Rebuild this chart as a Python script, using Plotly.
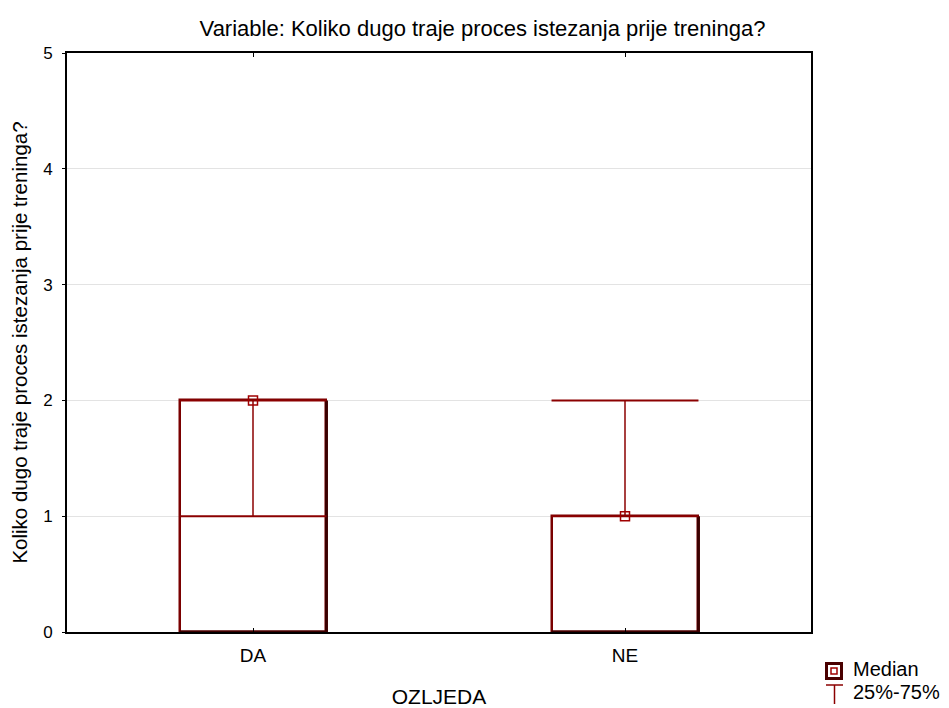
import plotly.graph_objects as go

categories = ["DA", "NE"]
medians = [2, 1]
q25 = [1, 1]
q75 = [2, 2]
y_ticks = [0, 1, 2, 3, 4, 5]

title_text = "Variable: Koliko dugo traje proces istezanja prije treninga?"
y_title = "Koliko dugo traje proces istezanja prije treninga?"
x_title = "OZLJEDA"
legend_labels = ["Median", "25%-75%"]

BOX_W = 0.395
RED = "#8b0000"
DARK = "#3c0000"
FONT = "Liberation Sans, Arial, sans-serif"

# the page body has an 8px default margin; lay the figure out in window pixels
OFF = 8
W, H = 949 - OFF, 708 - OFF
L, R, T, B = 67 - OFF, 949 - 811, 53 - OFF, 708 - 632
PW, PH = W - L - R, H - T - B


def px(x):
    return (x - OFF - L) / PW


def py(y):
    return (H - B - (y - OFF)) / PH


xs = list(range(len(categories)))
fig = go.Figure()

# boxes (bars from 0 to median)
fig.add_trace(go.Bar(x=xs, y=medians, base=0, width=BOX_W,
                     marker=dict(color="white", line=dict(color="#7a0000", width=2.5)),
                     showlegend=False, hoverinfo="skip"))

# darker right/bottom edges
for x, m in zip(xs, medians):
    fig.add_trace(go.Scatter(x=[x - BOX_W / 2, x + BOX_W / 2, x + BOX_W / 2],
                             y=[0, 0, m], mode="lines",
                             line=dict(color=DARK, width=3),
                             showlegend=False, hoverinfo="skip"))

# whiskers 25%-75%
for x, lo, hi in zip(xs, q25, q75):
    fig.add_trace(go.Scatter(x=[x, x], y=[lo, hi], mode="lines",
                             line=dict(color=RED, width=1.5),
                             showlegend=False, hoverinfo="skip"))
    for v in (lo, hi):
        fig.add_trace(go.Scatter(x=[x - BOX_W / 2, x + BOX_W / 2], y=[v, v], mode="lines",
                                 line=dict(color=RED, width=2),
                                 showlegend=False, hoverinfo="skip"))

# medians
fig.add_trace(go.Scatter(x=xs, y=medians, mode="markers",
                         marker=dict(symbol="square-open", size=9, color="#a00000",
                                     line=dict(color="#a00000", width=1.5)),
                         showlegend=False, hoverinfo="skip"))

fig.update_layout(
    width=W, height=H,
    margin=dict(l=L, r=R, t=T, b=B, autoexpand=False),
    paper_bgcolor="white", plot_bgcolor="white",
    font=dict(family=FONT, size=19, color="black"),
    title=dict(text=title_text, x=(482.5 - OFF) / W, xref="container", xanchor="center",
               y=1 - (28 - OFF) / H, yref="container", yanchor="middle",
               font=dict(family=FONT, size=22, color="black")),
    xaxis=dict(range=[-0.5, 1.5], tickvals=xs, ticktext=categories,
               showline=True, linecolor="black", linewidth=2, mirror="ticks",
               ticks="inside", ticklen=4, tickcolor="black", showgrid=False, zeroline=False,
               tickfont=dict(family=FONT, size=19),
               title=dict(text=x_title, standoff=26, font=dict(family=FONT, size=21)),
               ticklabelstandoff=5, automargin=False),
    yaxis=dict(range=[0, 5], tickvals=y_ticks,
               showline=True, linecolor="black", linewidth=2, mirror=True,
               ticks="outside", ticklen=3, tickcolor="black",
               showgrid=True, gridcolor="#e3e3e3", gridwidth=1, zeroline=False,
               tickfont=dict(family=FONT, size=17),
               title=dict(text=y_title, standoff=18, font=dict(family=FONT, size=20.5)),
               ticklabelstandoff=6, automargin=False),
    bargap=0,
)

# legend
fig.add_shape(type="rect", xref="paper", yref="paper",
              x0=px(826.5), x1=px(841.5), y0=py(678.5), y1=py(663.5),
              line=dict(color="#4a0000", width=3), fillcolor="white")
fig.add_shape(type="rect", xref="paper", yref="paper",
              x0=px(831), x1=px(837), y0=py(674), y1=py(668),
              line=dict(color="#a00000", width=1.5))
fig.add_shape(type="line", xref="paper", yref="paper",
              x0=px(826), x1=px(843), y0=py(685), y1=py(685),
              line=dict(color=RED, width=1.5))
fig.add_shape(type="line", xref="paper", yref="paper",
              x0=px(834.5), x1=px(834.5), y0=py(685), y1=py(704),
              line=dict(color=RED, width=1.5))
for lab, yy in zip(legend_labels, (669, 692)):
    fig.add_annotation(xref="paper", yref="paper", x=px(852), y=py(yy),
                       xanchor="left", yanchor="middle", text=lab, showarrow=False,
                       borderpad=0, font=dict(family=FONT, size=20, color="black"))

fig.write_html("out.html")
